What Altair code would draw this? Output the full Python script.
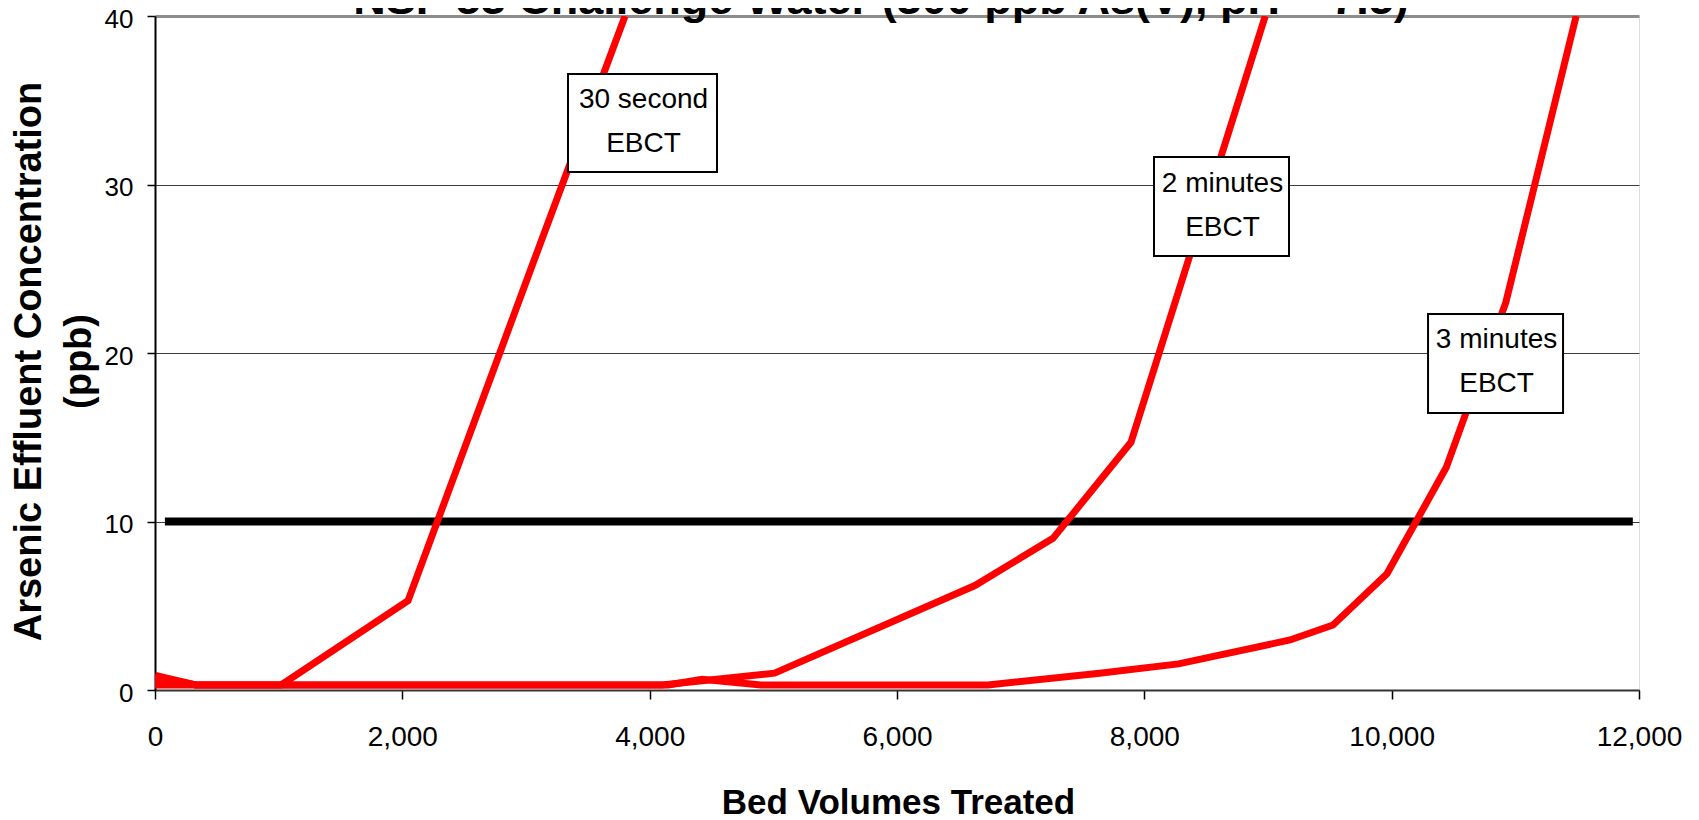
import altair as alt
import pandas as pd

# ---------------- data ----------------
title_text = "NSF 53 Challenge Water (300 ppb As(V), pH = 7.5)"
x_title = "Bed Volumes Treated"
y_title = ["Arsenic Effluent Concentration", "(ppb)"]

x_ticks = [0, 2000, 4000, 6000, 8000, 10000, 12000]
y_ticks = [0, 10, 20, 30, 40]

s30_x = [0, 50, 330, 1020, 2046, 3040, 3801]
s30_y = [0.9, 0.7, 0.3, 0.3, 5.3, 25.0, 40.0]

m2_x = [0, 40, 330, 4100, 5010, 6630, 7261, 7892, 8978]
m2_y = [0.3, 0.8, 0.3, 0.3, 1.0, 6.2, 9.0, 14.7, 40.0]

m3_x = [0, 330, 4150, 4423, 4900, 6735, 7638, 8277, 9178, 9526, 9962, 10441, 10923, 11492]
m3_y = [0.3, 0.3, 0.3, 0.64, 0.3, 0.3, 1.0, 1.55, 2.97, 3.86, 6.9, 13.2, 23.0, 40.0]

limit_x = [80, 11950]
limit_y = [10, 10]

ann_text = ["30 second\nEBCT", "2 minutes\nEBCT", "3 minutes\nEBCT"]
ann_x = [3942, 8624, 10840]
ann_y = [33.65, 28.69, 19.38]

# ---------------- layout / style ----------------
PLOT_W, PLOT_H = 1484, 674
X_MAX, Y_MAX = 12000, 40
BOX_W_PX = [149, 135, 135]
BOX_H_PX = [98, 99, 99]
TITLE_X_PX, TITLE_Y_PX = 726, -2   # title anchor, relative to the plot area

SANS = "Liberation Sans, Arial, sans-serif"

rows = []
for name, xs, ys in [("30 second", s30_x, s30_y), ("2 minutes", m2_x, m2_y), ("3 minutes", m3_x, m3_y)]:
    for i, (a, b) in enumerate(zip(xs, ys)):
        rows.append({"series": name, "idx": i, "x": a, "y": b})
df_curves = pd.DataFrame(rows)
df_limit = pd.DataFrame({"x": limit_x, "y": limit_y})
df_title = pd.DataFrame({"t": [title_text]})

xs_per_px = X_MAX / PLOT_W
ys_per_px = Y_MAX / PLOT_H
df_ann = pd.DataFrame({
    "text": ann_text,
    "x": ann_x,
    "y": ann_y,
    "x1": [c - w / 2 * xs_per_px for c, w in zip(ann_x, BOX_W_PX)],
    "x2": [c + w / 2 * xs_per_px for c, w in zip(ann_x, BOX_W_PX)],
    "y1": [c - h / 2 * ys_per_px for c, h in zip(ann_y, BOX_H_PX)],
    "y2": [c + h / 2 * ys_per_px for c, h in zip(ann_y, BOX_H_PX)],
})

x_scale = alt.Scale(domain=[0, X_MAX], nice=False, zero=False)
y_scale = alt.Scale(domain=[0, Y_MAX], nice=False, zero=False)

x_axis = alt.Axis(
    values=x_ticks, format=",d", grid=False,
    tickSize=9, tickColor="#000000", tickWidth=1.5,
    domainColor="#333333", domainWidth=2,
    labelFont=SANS, labelFontSize=28, labelColor="#000000",
    labelPadding=24, labelFlush=False,
    title=x_title, titleFont=SANS, titleFontSize=35, titleFontWeight="bold",
    titleColor="#000000", titleX=743, titleY=123, titleAlign="center",
    titleBaseline="alphabetic",
)
y_axis = alt.Axis(
    values=y_ticks, grid=True,
    gridColor={"condition": {"test": "datum.value === 40", "value": "#8c8c8c"}, "value": "#3c3c3c"},
    gridWidth={"condition": {"test": "datum.value === 40", "value": 3}, "value": 1},
    tickSize=8, tickColor="#000000", tickWidth=1.5,
    domainColor="#000000", domainWidth=2,
    labelFont=SANS, labelFontSize=26, labelColor="#000000",
    labelPadding=14, labelFlush=False, labelOffset=3,
    title=y_title, titleFont=SANS, titleFontSize=38, titleFontWeight="bold",
    titleColor="#000000", titleAngle=270, titleX=-115, titleY=345,
    titleAlign="center", titleBaseline="alphabetic", titleLineHeight=50,
)

X = alt.X("x:Q", scale=x_scale, axis=x_axis)
Y = alt.Y("y:Q", scale=y_scale, axis=y_axis)

limit = alt.Chart(df_limit).mark_line(color="#000000", strokeWidth=8).encode(x=X, y=Y)

curves = alt.Chart(df_curves).mark_line(color="#ff0000", strokeWidth=7, clip=True).encode(
    x=X, y=Y, detail="series:N", order="idx:Q"
)

boxes = alt.Chart(df_ann).mark_rect(fill="#ffffff", stroke="#000000", strokeWidth=2).encode(
    x=alt.X("x1:Q", scale=x_scale, axis=x_axis), x2="x2:Q",
    y=alt.Y("y1:Q", scale=y_scale, axis=y_axis), y2="y2:Q",
)

texts = alt.Chart(df_ann).mark_text(
    font=SANS, fontSize=28, lineBreak="\n", lineHeight=44,
    baseline="alphabetic", align="center", dy=-15, dx=1, color="#000000",
).encode(x=X, y=Y, text="text:N")

title = alt.Chart(df_title).mark_text(
    font=SANS, fontSize=45, fontWeight="bold", color="#000000",
    align="center", baseline="alphabetic",
).encode(x=alt.value(TITLE_X_PX), y=alt.value(TITLE_Y_PX), text="t:N")

chart = alt.layer(limit, curves, boxes, texts, title).properties(
    width=PLOT_W, height=PLOT_H,
    autosize=alt.AutoSizeParams(type="none"),
    padding={"left": 147, "top": 8, "right": 52, "bottom": 128},
).configure_view(stroke="#8c8c8c", strokeWidth=2.5).configure(background="#ffffff")

chart.save("out.html", embed_options={"renderer": "svg", "actions": False})
